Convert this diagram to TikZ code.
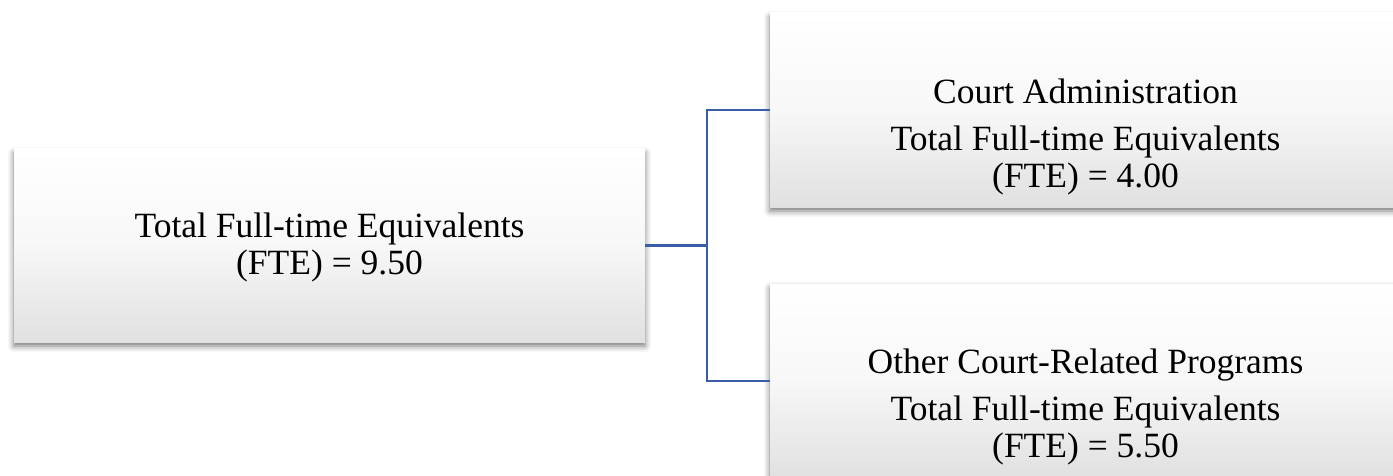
\documentclass[tikz,border=0pt]{standalone}
\usepackage{fontspec}
\setmainfont{Liberation Serif}
\usetikzlibrary{shadows.blur}
\definecolor{conn}{HTML}{3A5DA8}
\tikzset{
  fbox/.style={minimum width=631pt, minimum height=194pt, inner sep=0pt,
    top color=white, bottom color=black!12, middle color=white!97!black,
    blur shadow={shadow xshift=0pt, shadow yshift=-4pt, shadow blur radius=6pt, shadow opacity=55}},
  ftext/.style={align=center, inner sep=0pt, font=\fontsize{35.5}{37}\selectfont},
  conline/.style={draw=conn, line width=2.4pt}
}
\begin{document}
\begin{tikzpicture}[x=1pt,y=-1pt]
\useasboundingbox (0,0) rectangle (1393,476);
\node[fbox, minimum height=193pt] (L) at (329.5,245.5) {};
\node[fbox] (T) at (1085.5,110) {};
\node[fbox] (B) at (1085.5,381) {};
\node[ftext] (Lt) at ([yshift=-2pt]L.center) {Total Full-time Equivalents\\(FTE) = 9.50};
\node[ftext] (Tt) at ([yshift=-27pt]T.center) {Court Administration\\[10pt]Total Full-time Equivalents\\(FTE) = 4.00};
\node[ftext] (Bt) at ([yshift=-26pt]B.center) {Other Court-Related Programs\\[10pt]Total Full-time Equivalents\\(FTE) = 5.50};
\coordinate (j) at (707,245.5);
\draw[conline] (L.east) -- (j);
\draw[conline] (T.west) -| (j) |- (B.west);
\end{tikzpicture}
\end{document}
